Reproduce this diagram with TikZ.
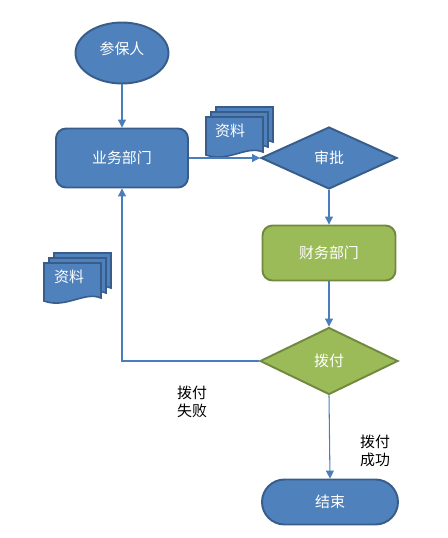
\documentclass[tikz,border=0pt]{standalone}
\usepackage{fontspec}
\setmainfont{Noto Sans CJK SC}
\usepackage{tikz}
\usetikzlibrary{shapes.geometric,arrows.meta}

\definecolor{bluefill}{HTML}{4F81BD}
\definecolor{blueline}{HTML}{385D8A}
\definecolor{greenfill}{HTML}{9BBB59}
\definecolor{greenline}{HTML}{71893F}
\definecolor{arrowline}{HTML}{4A7EBB}

\tikzset{
	shapetext/.style={text=white, font=\fontsize{8.5}{10}\selectfont, line width=1.1pt},
	bluebox/.style={shapetext, draw=blueline, fill=bluefill},
	greenbox/.style={shapetext, draw=greenline, fill=greenfill},
	flow/.style={draw=arrowline, line width=0.6pt, -{Triangle[length=4.5pt,width=4.5pt]}},
	sidetext/.style={font=\fontsize{8.5}{10}\selectfont, align=left, inner sep=0pt},
	sheet/.pic={
		\path[draw=blueline, fill=bluefill, line width=0.9pt]
			(0,38) -- (0,0) -- (57,0) -- (57,35)
			.. controls (40,28) and (22,46) .. (0,38) -- cycle;
	},
	docstack/.pic={
		\pic at (10,-10) {sheet};
		\pic at (5,-5) {sheet};
		\pic at (0,0) {sheet};
	}
}

\begin{document}
\begin{tikzpicture}[x=0.02cm, y=-0.02cm]
			\useasboundingbox (0,0) rectangle (448,538);

			\node (canbao) [bluebox, ellipse, text depth=6pt, minimum width=1.86cm, minimum height=1.22cm] at (122,53) {参保人};
			\node (yewu) [bluebox, rectangle, rounded corners=0.2cm, minimum width=2.64cm, minimum height=1.18cm] at (122,158) {业务部门};
			\node (shenpi) [bluebox, diamond, aspect=2, inner sep=0pt, minimum width=2.72cm, minimum height=1.24cm] at (329,158) {审批};
			\node (caiwu) [greenbox, rectangle, rounded corners=0.2cm, minimum width=2.66cm, minimum height=1.1cm] at (329,253) {财务部门};
			\node (bofu) [greenbox, diamond, aspect=2, inner sep=0pt, minimum width=2.76cm, minimum height=1.34cm] at (329,361) {拨付};
			\node (jieshu) [bluebox, rectangle, rounded corners=0.45cm, minimum width=2.72cm, minimum height=0.9cm] at (330,502) {结束};

			\pic at (206,117) {docstack};
			\node (ziliaoa) [shapetext] at (230,131) {资料};
			\pic at (44,263) {docstack};
			\node (ziliaob) [shapetext] at (69,277) {资料};

			\node (shibai) [sidetext] at (192,402) {拨付\\失败};
			\node (chenggong) [sidetext] at (375,451) {拨付\\成功};

			\path (canbao.south) edge [flow] (yewu.north);
			\path (yewu.east) edge [flow] (shenpi.west);
			\path (shenpi.south) edge [flow] (caiwu.north);
			\path (caiwu.south) edge [flow] (bofu.north);
			\path (bofu.south) edge [flow] (jieshu.north);
			\draw [flow] (bofu.west) -| (yewu.south);
\end{tikzpicture}
\end{document}
